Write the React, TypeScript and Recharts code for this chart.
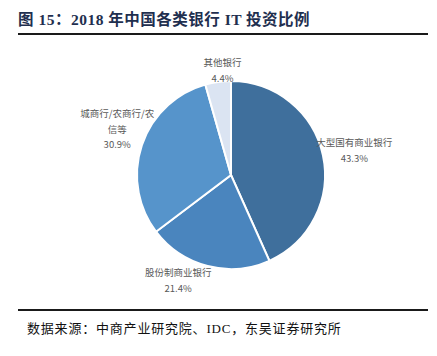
import React from "react";
import { PieChart, Pie, Cell } from "recharts";

const categories = ["大型国有商业银行", "股份制商业银行", "城商行/农商行/农信等", "其他银行"];
const labelLines = [["大型国有商业银行"], ["股份制商业银行"], ["城商行/农商行/农", "信等"], ["其他银行"]];
const values = [43.3, 21.4, 30.9, 4.4];
const valueLabels = ["43.3%", "21.4%", "30.9%", "4.4%"];
const colors = ["#3f6f9c", "#4a85be", "#5694cb", "#dbe4f2"];

const data = categories.map((name, i) => ({ name, value: values[i] }));

// label placement nudges (style, not data)
const nudges = [
  [6, 0],
  [-23, -11],
  [0, -8],
  [8, 14],
];

const RAD = Math.PI / 180;

const renderLabel = (props: any) => {
  const { cx, cy, midAngle, outerRadius, index } = props;
  const r = outerRadius + 26;
  const x = cx + r * Math.cos(-midAngle * RAD) + nudges[index][0];
  const y = cy + r * Math.sin(-midAngle * RAD) + nudges[index][1];
  const lines = [...labelLines[index], valueLabels[index]];
  const lh = 15.5;
  const top = y - ((lines.length - 1) * lh) / 2;
  return (
    <text
      x={x}
      y={top}
      textAnchor="middle"
      dominantBaseline="central"
      fill="#595959"
      fontSize={9.5}
      fontFamily="'Noto Sans CJK SC', 'Noto Sans', sans-serif"
    >
      {lines.map((l, i) => (
        <tspan key={i} x={x} y={top + i * lh} dominantBaseline="central">
          {l}
        </tspan>
      ))}
    </text>
  );
};

export default function App() {
  return (
    <div style={{ position: "absolute", left: 0, top: 0, width: 437, height: 356, background: "#fff", overflow: "hidden" }}>
      <div
        style={{
          position: "absolute",
          left: 18,
          top: 7,
          fontSize: 15.5,
          fontWeight: "bold",
          color: "#1f2f4f",
          fontFamily: "'Liberation Serif', 'Noto Sans CJK SC', serif",
          whiteSpace: "nowrap",
          letterSpacing: 0.5,
        }}
      >
        图 15：2018 年中国各类银行 IT 投资比例
      </div>
      <div style={{ position: "absolute", left: 18, top: 33, width: 410, height: 2, background: "#1a1a1a" }} />
      <div style={{ position: "absolute", left: 0, top: 0 }}>
        <PieChart width={437} height={356} margin={{ top: 0, right: 0, bottom: 0, left: 0 }}>
          <Pie
            data={data}
            dataKey="value"
            nameKey="name"
            cx={231}
            cy={175}
            outerRadius={94}
            startAngle={90}
            endAngle={-270}
            stroke="#ffffff"
            strokeWidth={2}
            label={renderLabel}
            labelLine={false}
            isAnimationActive={false}
          >
            {data.map((d, i) => (
              <Cell key={d.name} fill={colors[i]} />
            ))}
          </Pie>
        </PieChart>
      </div>
      <div style={{ position: "absolute", left: 18, top: 309, width: 410, height: 2, background: "#1a1a1a" }} />
      <div
        style={{
          position: "absolute",
          left: 27,
          top: 318,
          fontSize: 13,
          color: "#111",
          fontFamily: "'Liberation Serif', 'Noto Sans CJK SC', serif",
          whiteSpace: "nowrap",
          letterSpacing: 0.8,
        }}
      >
        数据来源：中商产业研究院、IDC，东吴证券研究所
      </div>
    </div>
  );
}
